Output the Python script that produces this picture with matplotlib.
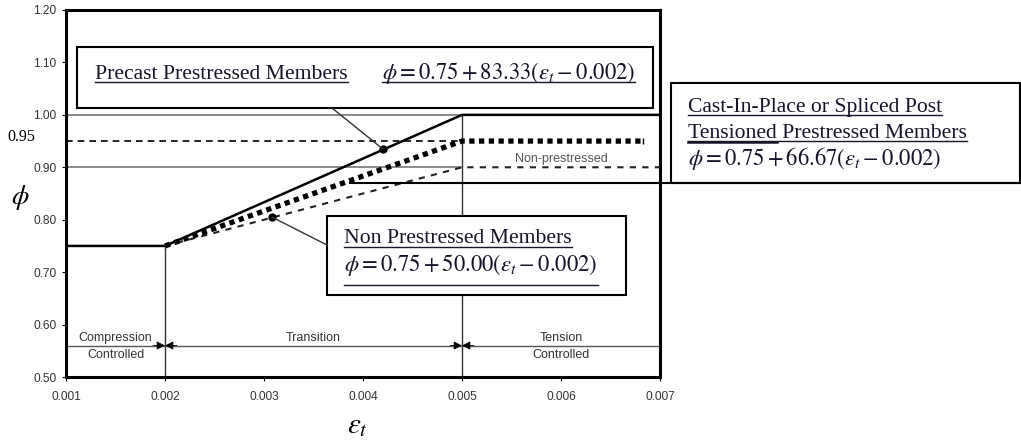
import matplotlib.pyplot as plt
from matplotlib.patches import Rectangle, ConnectionPatch

plt.rcParams['font.family'] = 'Liberation Sans'
plt.rcParams['mathtext.fontset'] = 'stix'

# axis ticks
eps_ticks = [0.001, 0.002, 0.003, 0.004, 0.005, 0.006, 0.007]
phi_ticks = [0.50, 0.60, 0.70, 0.80, 0.90, 1.00, 1.10, 1.20]

# region limits
eps_cc = 0.002   # compression controlled limit
eps_tc = 0.005   # tension controlled limit
phi_min = 0.75

# phi curves
precast_eps = [0.001, 0.002, 0.005, 0.007]
precast_phi = [0.75, 0.75, 1.00, 1.00]
cip_eps = [0.002, 0.005, 0.00683]
cip_phi = [0.75, 0.95, 0.95]
nonpre_eps = [0.002, 0.005, 0.007]
nonpre_phi = [0.75, 0.90, 0.90]

# reference lines in the transition zone
grid_phi = [0.90, 1.00]
phi_095 = 0.95
band_phi = 0.56

# callout points
callout_eps = [0.0042, 0.00308]
callout_phi = [0.935, 0.805]

fig = plt.figure(figsize=(10.21, 4.41), dpi=100)
ax = fig.add_axes([66/1021, 1-377/441, 594/1021, 367/441])
ax.set_xlim(0.001, 0.007)
ax.set_ylim(0.5, 1.2)
ax.set_xticks(eps_ticks)
ax.set_xticklabels(['%.3f' % v for v in eps_ticks])
ax.set_yticks(phi_ticks)
ax.set_yticklabels(['%.2f' % v for v in phi_ticks])
for s in ax.spines.values():
    s.set_linewidth(2.2)
ax.tick_params(axis='both', direction='out', length=3, width=0.8,
               labelsize=8.6, labelcolor='#333333')
ax.tick_params(axis='x', pad=7)
ax.tick_params(axis='y', pad=4)

# gray gridlines and 0.95 dashed line up to tension limit
for g in grid_phi:
    ax.plot([eps_ticks[0], eps_tc], [g, g], color='#8a8a8a', lw=1.4, zorder=1)
ax.plot([eps_ticks[0], eps_tc], [phi_095, phi_095], color='k', lw=1.2,
        ls=(0, (4, 3)), zorder=2)

# region boundaries
ax.plot([eps_cc, eps_cc], [0.5, phi_min], color='#333333', lw=1, zorder=1)
ax.plot([eps_tc, eps_tc], [0.5, 1.0], color='#333333', lw=1, zorder=1)
ax.plot([eps_ticks[0], eps_ticks[-1]], [band_phi, band_phi], color='#555555', lw=1)
for x in [eps_cc, eps_tc]:
    for d in [-0.00012, 0.00012]:
        ax.annotate('', xy=(x, band_phi), xytext=(x + d, band_phi),
                    arrowprops=dict(arrowstyle='-|>,head_length=0.5,head_width=0.25',
                                    color='k', lw=0.6, shrinkA=0, shrinkB=0,
                                    mutation_scale=10))

# curves
ax.plot(precast_eps, precast_phi, color='k', lw=1.8, zorder=4)
ax.plot(cip_eps, cip_phi, color='k', lw=3.8, ls=(0, (1, 0.85)), zorder=4,
        marker='|', markevery=[2], ms=5, mew=1)
ax.plot(nonpre_eps, nonpre_phi, color='#222222', lw=1.5, ls=(0, (3, 3)), zorder=3)
ax.plot(callout_eps, callout_phi, 'o', color='k', ms=5, zorder=6)

# region labels
lab = dict(fontsize=9, color='#333333', ha='center', va='center')
ax.text(0.0015, 0.574, 'Compression', **lab)
ax.text(0.0015, 0.542, 'Controlled', **lab)
ax.text(0.0035, 0.574, 'Transition', **lab)
ax.text(0.006, 0.574, 'Tension', **lab)
ax.text(0.006, 0.542, 'Controlled', **lab)
ax.text(0.006, 0.916, 'Non-prestressed', fontsize=9, color='#555555', ha='center', va='center')
ax.text(0.006, 1.018, 'Prestressed', fontsize=9, color='#555555', ha='center', va='center')

# axis labels
fig.text(20/1021, 1-197/441, r'$\phi$', fontsize=20, ha='center', va='center')
fig.text(357/1021, 1-425/441, r'$\varepsilon_t$', fontsize=21, ha='center', va='center')
fig.text(21/1021, 1-137/441, '0.95', family='Liberation Serif', fontsize=11.5,
         ha='center', va='center')

# overlay in pixel coordinates for the callout boxes
ov = fig.add_axes([0, 0, 1, 1])
ov.set_xlim(0, 1021)
ov.set_ylim(441, 0)
ov.axis('off')

for (x0, y0, w, h) in [(77, 47, 576, 61), (671, 83, 349, 100), (327, 216, 299, 79)]:
    ov.add_patch(Rectangle((x0, y0), w, h, fc='white', ec='black', lw=1.5, zorder=2))

tc = '#15152a'
serif = dict(family='Liberation Serif', fontsize=15.6, color=tc, zorder=4)
math = dict(family='Liberation Serif', fontsize=16.3, color=tc, zorder=4)
t1 = ov.text(95, 79, 'Precast Prestressed Members', va='baseline', **serif)
t2 = ov.text(382, 79, r'$\phi = 0.75 + 83.33(\varepsilon_t - 0.002)$', va='baseline', **math)
t3 = ov.text(688, 112, 'Cast-In-Place or Spliced Post', va='baseline', **serif)
t4 = ov.text(688, 138, 'Tensioned Prestressed Members', va='baseline', **serif)
t4a = ov.text(688, 138, 'Tensioned', va='baseline', alpha=0, **serif)
ov.text(688, 158, r'$\phi = 0.75 + 66.67\left(\varepsilon_t - 0.002\right)$', va='center', **math)
t5 = ov.text(344, 243, 'Non Prestressed Members', va='baseline', **serif)
ov.text(344, 265, r'$\phi = 0.75 + 50.00\left(\varepsilon_t - 0.002\right)$', va='center', **math)
ov.plot([344, 598], [285, 285], color=tc, lw=1, zorder=4)

# connectors
ov.plot([350, 1021], [183, 183], color='k', lw=1.5, zorder=3)
for xy_box, i in [((332, 108), 0), ((327, 245), 1)]:
    cp = ConnectionPatch(xyA=xy_box, coordsA=ov.transData,
                         xyB=(callout_eps[i], callout_phi[i]), coordsB=ax.transData,
                         color='#333333', lw=1, zorder=1)
    fig.add_artist(cp)

# underlines measured from the rendered text
fig.canvas.draw()
r = fig.canvas.get_renderer()
inv = ov.transData.inverted()
for t, yb, dy, lw in [(t1, 79, 3, 1), (t2, 79, 3, 1), (t3, 112, 3, 1),
                      (t4, 138, 3, 1), (t4a, 138, 4, 1.8), (t5, 243, 4, 1)]:
    bb = t.get_window_extent(r)
    xa = inv.transform((bb.x0, bb.y0))[0]
    xb = inv.transform((bb.x1, bb.y0))[0]
    ov.plot([xa, xb], [yb + dy, yb + dy], color=tc, lw=lw, zorder=4)

fig.savefig('out.png', dpi=100)
